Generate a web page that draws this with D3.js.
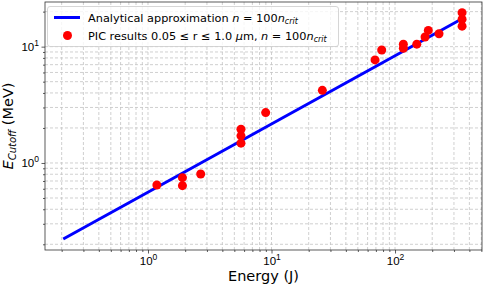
<!DOCTYPE html>
<html>
<head>
<meta charset="utf-8">
<script src="https://cdn.jsdelivr.net/npm/d3@7"></script>
<style>
  body { margin: 0; background: #fff; }
  svg { font-family: "DejaVu Sans", sans-serif; }
</style>
</head>
<body>
<div id="chart"></div>
<script>
// PIC simulation results (energy in J, cutoff in MeV)
const picEnergy = [1.18, 1.90, 1.90, 2.67, 5.66, 5.66, 5.66, 8.97, 25.8, 68.9, 78.0, 116.8, 116.8, 150, 175, 186, 227, 349, 349, 349];
const picCutoff = [0.647, 0.748, 0.638, 0.804, 1.95, 1.71, 1.48, 2.71, 4.21, 7.69, 9.36, 10.5, 9.69, 10.5, 12.1, 13.8, 12.9, 19.6, 17.2, 15.0];

// analytical approximation line, end points
const lineEnergy = [0.206, 326];
const lineCutoff = [0.222, 16.7];

const xDomain = [0.1466, 506];
const yDomain = [0.1786, 24.2];
const xMajor = [1, 10, 100];
const yMajor = [1, 10];

const width = 484, height = 286;
const margin = {top: 2, right: 2, bottom: 36, left: 45};
const innerW = width - margin.left - margin.right;
const innerH = height - margin.top - margin.bottom;

const svg = d3.select("#chart").append("svg")
    .attr("width", width)
    .attr("height", height);

const chart = svg.append("g")
    .attr("transform", `translate(${margin.left},${margin.top})`);

const x = d3.scaleLog().domain(xDomain).range([0, innerW]);
const y = d3.scaleLog().domain(yDomain).range([innerH, 0]);

const isMajor = v => Math.abs(Math.log10(v) - Math.round(Math.log10(v))) < 1e-9;
const xAll = x.ticks();
const yAll = y.ticks();

// grid, major and minor
chart.append("g").selectAll("line")
    .data(xAll)
    .join("line")
    .attr("x1", d => x(d)).attr("x2", d => x(d))
    .attr("y1", 0).attr("y2", innerH)
    .attr("stroke", "#c4c4c4")
    .attr("stroke-width", 0.8)
    .attr("stroke-dasharray", "3,2");

chart.append("g").selectAll("line")
    .data(yAll)
    .join("line")
    .attr("y1", d => y(d)).attr("y2", d => y(d))
    .attr("x1", 0).attr("x2", innerW)
    .attr("stroke", "#c4c4c4")
    .attr("stroke-width", 0.8)
    .attr("stroke-dasharray", "3,2");

// analytical line
const lineData = lineEnergy.map((e, i) => ({e: e, c: lineCutoff[i]}));
chart.append("path")
    .datum(lineData)
    .attr("fill", "none")
    .attr("stroke", "#0000ff")
    .attr("stroke-width", 3)
    .attr("d", d3.line().x(d => x(d.e)).y(d => y(d.c)));

// PIC points
const pts = picEnergy.map((e, i) => ({e: e, c: picCutoff[i]}));
chart.selectAll(".pt")
    .data(pts)
    .join("circle")
    .attr("class", "pt")
    .attr("cx", d => x(d.e))
    .attr("cy", d => y(d.c))
    .attr("r", 4.5)
    .attr("fill", "#ff0000");

// axes
const xAxis = d3.axisBottom(x)
    .tickValues(xAll)
    .tickFormat("")
    .tickSize(0);
const xAxisG = chart.append("g")
    .attr("transform", `translate(0,${innerH})`)
    .call(xAxis);
xAxisG.select(".domain").remove();
xAxisG.selectAll(".tick line")
    .attr("y2", d => isMajor(d) ? 3.5 : 2)
    .attr("stroke", "#333")
    .attr("stroke-width", 0.8);

const yAxis = d3.axisLeft(y)
    .tickValues(yAll)
    .tickFormat("")
    .tickSize(0);
const yAxisG = chart.append("g").call(yAxis);
yAxisG.select(".domain").remove();
yAxisG.selectAll(".tick line")
    .attr("x2", d => isMajor(d) ? -3.5 : -2)
    .attr("stroke", "#333")
    .attr("stroke-width", 0.8);

// power-of-ten labels
function powLabel(sel, exp) {
    sel.append("tspan").text("10");
    sel.append("tspan").attr("dy", -5).attr("font-size", 8.5).text(exp);
}

xAxisG.selectAll(".tick")
    .filter(d => xMajor.includes(d))
    .append("text")
    .attr("fill", "#000")
    .attr("font-size", 11.5)
    .attr("text-anchor", "middle")
    .attr("y", 15)
    .attr("dy", 0)
    .each(function(d) { powLabel(d3.select(this), Math.round(Math.log10(d))); });

yAxisG.selectAll(".tick")
    .filter(d => yMajor.includes(d))
    .append("text")
    .attr("fill", "#000")
    .attr("font-size", 11.5)
    .attr("text-anchor", "end")
    .attr("x", -6)
    .attr("y", 4)
    .attr("dy", 0)
    .each(function(d) { powLabel(d3.select(this), Math.round(Math.log10(d))); });

// frame
chart.append("rect")
    .attr("width", innerW)
    .attr("height", innerH)
    .attr("fill", "none")
    .attr("stroke", "#333")
    .attr("stroke-width", 0.8);

// axis titles
svg.append("text")
    .attr("x", margin.left + innerW / 2)
    .attr("y", 281)
    .attr("text-anchor", "middle")
    .attr("font-size", 14.5)
    .text("Energy (J)");

const yTitle = svg.append("text")
    .attr("transform", `translate(13,${margin.top + innerH / 2}) rotate(-90)`)
    .attr("text-anchor", "middle")
    .attr("font-size", 14.5);
yTitle.append("tspan").attr("font-style", "italic").text("E");
yTitle.append("tspan").attr("font-style", "italic").attr("font-size", 10).attr("dy", 3).text("Cutoff");
yTitle.append("tspan").attr("dy", -3).text(" (MeV)");

// legend
const legend = svg.append("g");
legend.append("rect")
    .attr("x", 47.5).attr("y", 6.5)
    .attr("width", 291).attr("height", 40)
    .attr("rx", 2.5)
    .attr("fill", "#fff")
    .attr("fill-opacity", 0.8)
    .attr("stroke", "#cccccc")
    .attr("stroke-width", 0.8);

legend.append("line")
    .attr("x1", 54).attr("x2", 80)
    .attr("y1", 17.5).attr("y2", 17.5)
    .attr("stroke", "#0000ff")
    .attr("stroke-width", 3);
legend.append("circle")
    .attr("cx", 67.5).attr("cy", 35.5)
    .attr("r", 4.5)
    .attr("fill", "#ff0000");

function nCrit(t) {
    t.append("tspan").attr("font-style", "italic").text("n");
    t.append("tspan").text(" = 100");
    t.append("tspan").attr("font-style", "italic").text("n");
    t.append("tspan").attr("font-style", "italic").attr("font-size", 8).attr("dy", 2.5).text("crit");
}

const l1 = legend.append("text")
    .attr("x", 88).attr("y", 21.5)
    .attr("font-size", 11.3);
l1.append("tspan").text("Analytical approximation ");
nCrit(l1);

const l2 = legend.append("text")
    .attr("x", 88).attr("y", 39.5)
    .attr("font-size", 11.3);
l2.append("tspan").text("PIC results 0.05 \u2264 r \u2264 1.0 ");
l2.append("tspan").attr("font-style", "italic").text("\u03bc");
l2.append("tspan").text("m,  ");
nCrit(l2);
</script>
</body>
</html>
